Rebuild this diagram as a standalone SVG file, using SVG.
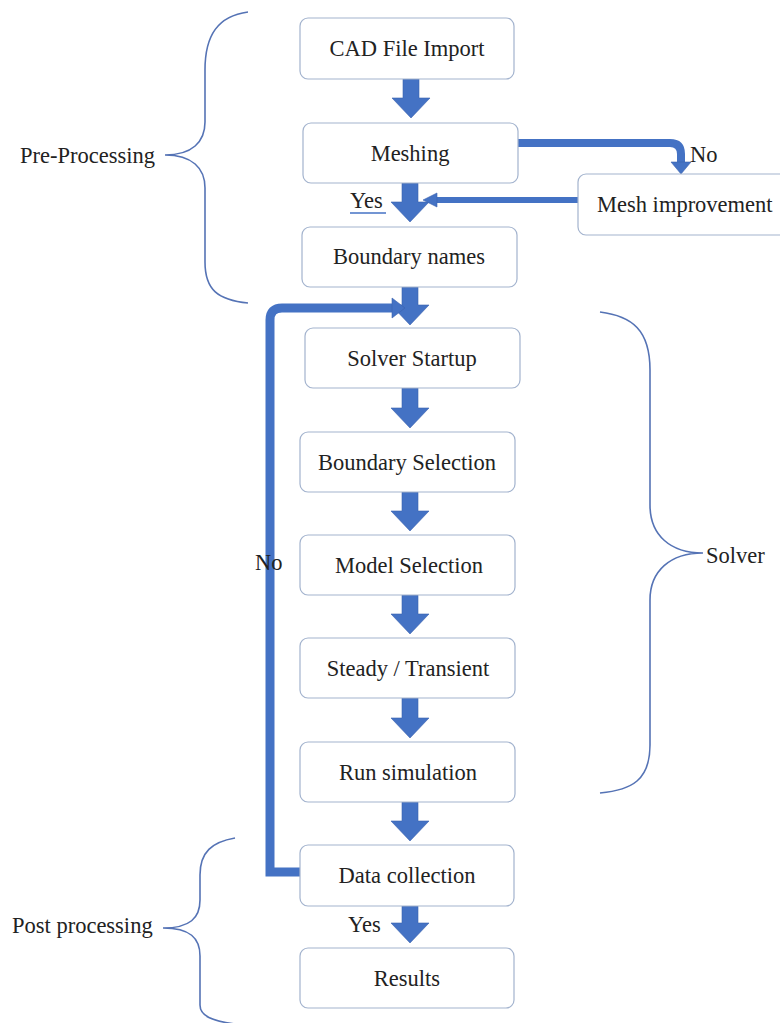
<svg xmlns="http://www.w3.org/2000/svg" width="780" height="1023" viewBox="0 0 780 1023">
<defs>
<style>
.box{fill:#fff;stroke:#A3B3CE;stroke-width:1.2}
.arr{fill:#4472C4;stroke:#3A62AE;stroke-width:0.6}
.ln{fill:none;stroke:#4472C4}
.br{fill:none;stroke:#5573B5;stroke-width:1.6}
</style>
</defs>
<rect width="780" height="1023" fill="#fff"/>
<g id="braces">
<path class="br" d="M248,12 C218,16 205,35 205,70 L205,122 C205,142 192,155 165,155 C192,155 205,168 205,188 L205,262 C205,290 218,300 248,303"/>
<path class="br" d="M600,312 C632,316 650,330 650,370 L650,505 C650,535 670,553 703,553 C670,553 650,571 650,600 L650,745 C650,780 632,790 600,793"/>
<path class="br" d="M235,838 C212,842 200,852 200,875 L200,900 C200,918 190,928 163,928 C190,928 200,938 200,956 L200,1005 C200,1016 212,1021 235,1024"/>
<text x="20" y="163" style="font-family:'Liberation Serif',serif !important;font-size:22.5px;fill:#222">Pre-Processing</text>
<text x="706" y="563" style="font-family:'Liberation Serif',serif !important;font-size:22.5px;fill:#222">Solver</text>
<text x="12" y="933" style="font-family:'Liberation Serif',serif !important;font-size:22.5px;fill:#222">Post processing</text>
</g>
<g id="connectors">
<path class="arr" d="M403,79 H419 V98 H430 L411,118 L392,98 H403 Z"/>
<path class="arr" d="M402,183 H418 V202 H429 L410,222 L391,202 H402 Z"/>
<path class="arr" d="M402,287 H418 V305 H429 L410,325 L391,305 H402 Z"/>
<path class="arr" d="M402,388 H418 V408 H429 L410,428 L391,408 H402 Z"/>
<path class="arr" d="M402,492 H418 V511 H429 L410,531 L391,511 H402 Z"/>
<path class="arr" d="M402,595 H418 V614 H429 L410,634 L391,614 H402 Z"/>
<path class="arr" d="M402,698 H418 V718 H429 L410,738 L391,718 H402 Z"/>
<path class="arr" d="M402,802 H418 V821 H429 L410,841 L391,821 H402 Z"/>
<path class="arr" d="M402,906 H418 V923 H429 L410,943 L391,923 H402 Z"/>
<path class="ln" stroke-width="8" d="M518,143 H670 Q681,143 681,154 V163"/>
<path class="arr" d="M671,162 H691 L681,174 Z"/>
<path class="ln" stroke-width="6" d="M578,200 H434"/>
<path class="arr" d="M437,193 L423,200 L437,207 Z"/>
<path class="ln" stroke-width="9" d="M300,872 H270 V320 Q270,308 282,308 H394"/>
<path class="arr" d="M392,298 L405,308 L392,318 Z"/>
<text x="690" y="162" style="font-family:'Liberation Serif',serif !important;font-size:22.5px;fill:#222">No</text>
<text x="350" y="208" style="font-family:'Liberation Serif',serif !important;font-size:22.5px;fill:#222">Yes</text>
<line x1="350" y1="213" x2="386" y2="213" stroke="#4472C4" stroke-width="1.5"/>
<text x="255" y="570" style="font-family:'Liberation Serif',serif !important;font-size:22.5px;fill:#222">No</text>
<text x="348" y="932" style="font-family:'Liberation Serif',serif !important;font-size:22.5px;fill:#222">Yes</text>
</g>
<g id="n1"><rect class="box" x="300" y="18" width="214" height="61" rx="8"/><text x="407" y="56" text-anchor="middle" style="font-family:'Liberation Serif',serif !important;font-size:22.5px;fill:#222">CAD File Import</text></g>
<g id="n2"><rect class="box" x="303" y="123" width="215" height="60" rx="8"/><text x="410" y="161" text-anchor="middle" style="font-family:'Liberation Serif',serif !important;font-size:22.5px;fill:#222">Meshing</text></g>
<g id="n3"><rect class="box" x="578" y="174" width="215" height="61" rx="8"/><text x="597" y="212" style="font-family:'Liberation Serif',serif !important;font-size:22.5px;fill:#222">Mesh improvement</text></g>
<g id="n4"><rect class="box" x="302" y="227" width="215" height="60" rx="8"/><text x="409" y="264" text-anchor="middle" style="font-family:'Liberation Serif',serif !important;font-size:22.5px;fill:#222">Boundary names</text></g>
<g id="n5"><rect class="box" x="305" y="328" width="215" height="60" rx="8"/><text x="412" y="366" text-anchor="middle" style="font-family:'Liberation Serif',serif !important;font-size:22.5px;fill:#222">Solver Startup</text></g>
<g id="n6"><rect class="box" x="300" y="432" width="215" height="60" rx="8"/><text x="407" y="470" text-anchor="middle" style="font-family:'Liberation Serif',serif !important;font-size:22.5px;fill:#222">Boundary Selection</text></g>
<g id="n7"><rect class="box" x="300" y="535" width="215" height="60" rx="8"/><text x="409" y="573" text-anchor="middle" style="font-family:'Liberation Serif',serif !important;font-size:22.5px;fill:#222">Model Selection</text></g>
<g id="n8"><rect class="box" x="300" y="638" width="215" height="60" rx="8"/><text x="408" y="676" text-anchor="middle" style="font-family:'Liberation Serif',serif !important;font-size:22.5px;fill:#222">Steady / Transient</text></g>
<g id="n9"><rect class="box" x="300" y="742" width="215" height="60" rx="8"/><text x="408" y="780" text-anchor="middle" style="font-family:'Liberation Serif',serif !important;font-size:22.5px;fill:#222">Run simulation</text></g>
<g id="n10"><rect class="box" x="300" y="845" width="214" height="61" rx="8"/><text x="407" y="883" text-anchor="middle" style="font-family:'Liberation Serif',serif !important;font-size:22.5px;fill:#222">Data collection</text></g>
<g id="n11"><rect class="box" x="300" y="948" width="214" height="60" rx="8"/><text x="407" y="986" text-anchor="middle" style="font-family:'Liberation Serif',serif !important;font-size:22.5px;fill:#222">Results</text></g>
</svg>
